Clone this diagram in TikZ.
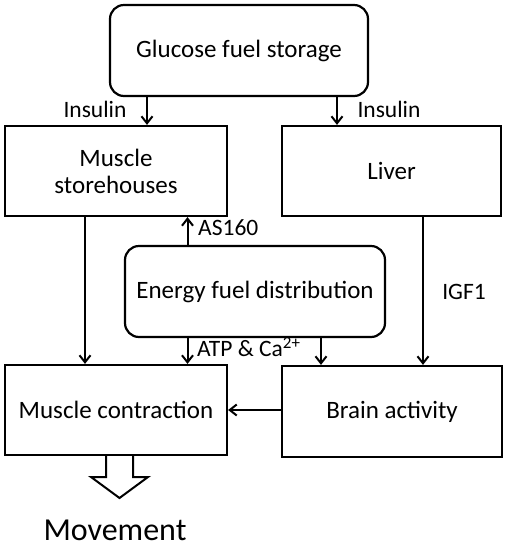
\documentclass[tikz,border=0pt]{standalone}
\usepackage{fontspec}
\setmainfont{Carlito}
\usetikzlibrary{arrows.meta}
\begin{document}
\begin{tikzpicture}[x=1pt,y=-1pt,
  box/.style={draw,line width=2.2pt,align=center,font=\fontsize{25}{27}\selectfont,inner sep=0pt},
  rbox/.style={box,rounded corners=14pt},
  lbl/.style={font=\fontsize{23.5}{26}\selectfont,inner sep=0pt},
  arr/.style={line width=2pt,-{Straight Barb[length=7pt,width=11pt,line width=2pt]}}]
\useasboundingbox (0,0) rectangle (507,550);
\node[rbox,minimum width=258pt,minimum height=91pt] (glu) at (239,50.5) {Glucose fuel storage};
\node[box,minimum width=222pt,minimum height=90pt] (ms) at (116,171) {Muscle\\storehouses};
\node[box,minimum width=219pt,minimum height=90pt] (liv) at (391.5,171) {Liver};
\node[rbox,minimum width=260pt,minimum height=91pt] (efd) at (255,291.5) {Energy fuel distribution};
\node[box,minimum width=222pt,minimum height=90pt] (mc) at (116,410) {Muscle contraction};
\node[box,minimum width=220pt,minimum height=91pt] (ba) at (392,411.5) {Brain activity};
\coordinate (xa) at (147,0);
\coordinate (xb) at (337,0);
\coordinate (xc) at (187.5,0);
\coordinate (xd) at (85,0);
\coordinate (xe) at (321,0);
\coordinate (xf) at (423,0);
\draw[arr] (glu.south -| xa) -- (ms.north -| xa);
\draw[arr] (glu.south -| xb) -- (liv.north -| xb);
\draw[arr] (efd.north -| xc) -- (ms.south -| xc);
\draw[arr] (ms.south -| xd) -- (mc.north -| xd);
\draw[arr] (efd.south -| xc) -- (mc.north -| xc);
\draw[arr] (efd.south -| xe) -- (ba.north -| xe);
\draw[arr] (liv.south -| xf) -- (ba.north -| xf);
\draw[arr] (ba.west |- mc.center) -- (mc.east);
\node[lbl] (ins1) at (95,109) {Insulin};
\node[lbl] (ins2) at (389,109) {Insulin};
\node[lbl,anchor=west] (as) at (198,228) {AS160};
\node[lbl,anchor=west] (atp) at (197,347) {ATP \& Ca\raisebox{0.35em}{\fontsize{17}{17}\selectfont 2+}};
\node[lbl] (igf) at (464,292) {IGF1};
\draw[line width=2pt,line join=miter] (mc.south -| 106,0) -- (106,477) -- (91,477) -- (119.5,498) -- (148,477) -- (133,477) -- (mc.south -| 133,0);
\node[font=\fontsize{32}{36}\selectfont,inner sep=0pt,text depth=0pt,anchor=base] (mv) at (115,540) {Movement};
\end{tikzpicture}
\end{document}
